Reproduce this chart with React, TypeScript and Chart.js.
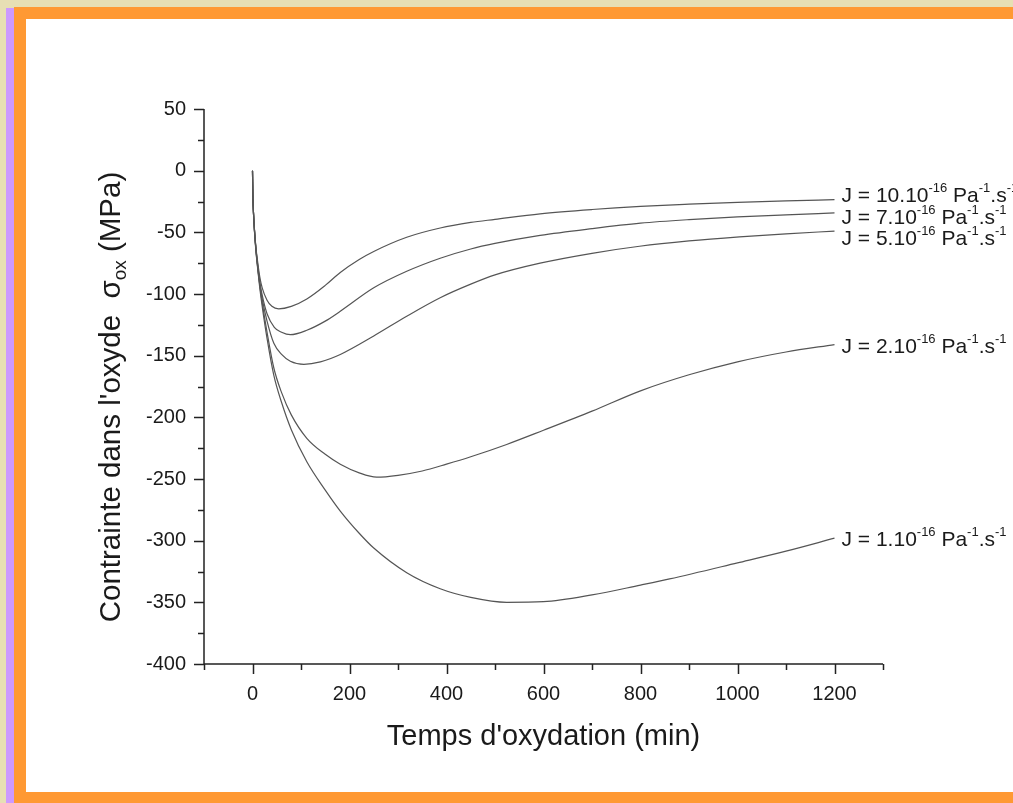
import React, { useEffect, useRef } from "react";
import { Chart, registerables } from "chart.js";

Chart.register(...registerables);

// ---- data ----
const seriesNames = ["J = 10", "J = 7", "J = 5", "J = 2", "J = 1"];
const labelMain = ["J = 10.10", "J = 7.10", "J = 5.10", "J = 2.10", "J = 1.10"];

const tJ10 = [0, 1, 2, 4, 7, 10, 15, 20, 30, 40, 54, 80, 112, 150, 181, 220, 250, 318, 387, 450, 500, 593, 700, 800, 900, 1000, 1100, 1200];
const sJ10 = [0, -24, -34, -47, -62, -72, -86, -95, -105, -110, -112, -110, -104, -93, -82.5, -72, -65.5, -54, -46.5, -42, -39.5, -35, -31.5, -29, -27.2, -25.7, -24.5, -23.5];

const tJ7 = [0, 1, 2, 4, 7, 10, 15, 20, 30, 45, 60, 78, 112, 150, 181, 250, 318, 387, 450, 500, 593, 700, 800, 900, 1000, 1100, 1200];
const sJ7 = [0, -24, -34, -48, -63, -74, -90, -101, -116, -127, -131, -133, -129.4, -122, -114, -95, -81.6, -71, -63.5, -59, -52.5, -47, -42.6, -39.7, -37.5, -35.8, -34.3];

const tJ5 = [0, 1, 2, 4, 7, 10, 15, 20, 30, 44, 60, 78, 106, 140, 181, 250, 318, 387, 450, 500, 593, 700, 798, 900, 1004, 1100, 1200];
const sJ5 = [0, -24, -34, -48, -63, -75, -92, -104, -122, -140, -149, -154.5, -157, -155, -149, -134, -118, -103, -92, -84.5, -75, -67, -61.3, -57, -53.7, -51.2, -49];

const tJ2 = [0, 1, 2, 4, 7, 10, 15, 20, 30, 44, 60, 80, 112, 150, 181, 220, 256, 300, 350, 400, 450, 524, 600, 700, 800, 900, 1000, 1100, 1200];
const sJ2 = [0, -24, -34, -48, -64, -76, -93, -107, -131, -160, -180, -198, -217, -230, -238, -245, -248.5, -247, -243.5, -238, -232, -222, -210.5, -195, -178.5, -165.5, -155, -147, -141];

const tJ1 = [0, 1, 2, 4, 7, 10, 15, 20, 30, 44, 60, 80, 112, 150, 181, 220, 250, 318, 387, 450, 524, 600, 700, 800, 860, 1000, 1100, 1200];
const sJ1 = [0, -24, -34, -49, -65, -77, -95, -110, -136, -166, -188, -210, -236, -259, -276, -294, -306, -326, -339, -346, -350, -349.5, -344, -336, -331, -318, -308.5, -298];

const seriesT = [tJ10, tJ7, tJ5, tJ2, tJ1];
const seriesS = [sJ10, sJ7, sJ5, sJ2, sJ1];

const X_MIN = -100, X_MAX = 1300, X_MAJOR = 200, X_MINOR = 100;
const Y_MIN = -400, Y_MAX = 50, Y_MAJOR = 50, Y_MINOR = 25;

// ---- styles ----
const FONT = '"Liberation Sans", Arial, Helvetica, sans-serif';
const TEXT = "#1a1a1a";
const LABEL_DY = [2, 11, 14, 8, 8];

function drawRich(ctx: CanvasRenderingContext2D, x: number, y: number, segs: { t: string; size: number; dy: number }[], measureOnly = false) {
  let cx = x;
  for (const s of segs) {
    ctx.font = `${s.size}px ${FONT}`;
    if (!measureOnly) ctx.fillText(s.t, cx, y + s.dy);
    cx += ctx.measureText(s.t).width;
  }
  return cx - x;
}

const decor = {
  id: "decor",
  afterDraw(chart: any) {
    const ctx: CanvasRenderingContext2D = chart.ctx;
    const xs = chart.scales.x;
    const ys = chart.scales.y;
    const { left, right, top, bottom } = chart.chartArea;
    ctx.save();
    ctx.strokeStyle = "#222";
    ctx.lineWidth = 1.5;
    ctx.beginPath();
    ctx.moveTo(left, top);
    ctx.lineTo(left, bottom);
    ctx.lineTo(right, bottom);
    for (let v = Y_MIN; v <= Y_MAX; v += Y_MINOR) {
      const p = Math.round(ys.getPixelForValue(v)) + 0.5;
      const major = Math.abs(v % Y_MAJOR) < 1e-9;
      ctx.moveTo(left, p);
      ctx.lineTo(left - (major ? 10 : 6), p);
    }
    for (let v = X_MIN; v <= X_MAX; v += X_MINOR) {
      const p = Math.round(xs.getPixelForValue(v)) + 0.5;
      const major = Math.abs(v % X_MAJOR) < 1e-9;
      ctx.moveTo(p, bottom);
      ctx.lineTo(p, bottom + (major ? 10 : 6));
    }
    ctx.stroke();

    // curve labels
    ctx.fillStyle = TEXT;
    ctx.textBaseline = "alphabetic";
    ctx.textAlign = "left";
    for (let i = 0; i < seriesT.length; i++) {
      const tt = seriesT[i];
      const ss = seriesS[i];
      const px = xs.getPixelForValue(tt[tt.length - 1]) + 7;
      const py = ys.getPixelForValue(ss[ss.length - 1]) + LABEL_DY[i];
      drawRich(ctx, px, py, [
        { t: labelMain[i], size: 21, dy: 0 },
        { t: "-16", size: 13, dy: -10 },
        { t: " Pa", size: 21, dy: 0 },
        { t: "-1", size: 13, dy: -10 },
        { t: ".s", size: 21, dy: 0 },
        { t: "-1", size: 13, dy: -10 },
      ]);
    }

    // x title
    ctx.font = `29px ${FONT}`;
    ctx.textAlign = "center";
    ctx.fillText("Temps d'oxydation (min)", (left + right) / 2, 745);

    // y title
    ctx.textAlign = "left";
    const ysegs = [
      { t: "Contrainte dans l'oxyde  ", size: 29.5, dy: 0 },
      { t: "σ", size: 29.5, dy: 0 },
      { t: "ox", size: 19, dy: 6 },
      { t: " (MPa)", size: 29.5, dy: 0 },
    ];
    const w = drawRich(ctx, 0, 0, ysegs, true);
    ctx.translate(120, 397);
    ctx.rotate(-Math.PI / 2);
    drawRich(ctx, -w / 2, 0, ysegs);
    ctx.restore();
  },
};

export default function App() {
  const ref = useRef<HTMLCanvasElement>(null);
  useEffect(() => {
    if (!ref.current) return;
    const datasets = seriesT.map((tt, i) => ({
      label: seriesNames[i],
      data: tt.map((t, k) => ({ x: t, y: seriesS[i][k] })),
      borderColor: "#555",
      borderWidth: 1.2,
      pointRadius: 0,
      fill: false,
      cubicInterpolationMode: "monotone" as const,
    }));
    const chart = new Chart(ref.current, {
      type: "line",
      data: { datasets },
      plugins: [decor],
      options: {
        responsive: false,
        animation: false,
        devicePixelRatio: 1,
        layout: { padding: { left: 124, right: 130, top: 109, bottom: 89 } },
        plugins: { legend: { display: false }, tooltip: { enabled: false } },
        scales: {
          x: {
            type: "linear",
            min: X_MIN,
            max: X_MAX,
            grid: { display: false, drawTicks: false },
            border: { display: false },
            ticks: {
              stepSize: X_MINOR,
              autoSkip: false,
              maxRotation: 0,
              padding: 18,
              color: TEXT,
              font: { size: 20, family: FONT },
              callback: (v: any) => (v % X_MAJOR === 0 && v >= 0 && v <= 1200 ? String(v) : ""),
            },
            afterFit: (s: any) => {
              s.height = 50;
            },
          },
          y: {
            type: "linear",
            min: Y_MIN,
            max: Y_MAX,
            grid: { display: false, drawTicks: false },
            border: { display: false },
            ticks: {
              stepSize: Y_MAJOR,
              autoSkip: false,
              padding: 18,
              color: TEXT,
              font: { size: 20, family: FONT },
              callback: (v: any) => String(v),
            },
            afterFit: (s: any) => {
              s.width = 80;
            },
          },
        },
      },
    });
    return () => chart.destroy();
  }, []);

  return (
    <div style={{ position: "absolute", left: 0, top: 0, width: 1013, height: 803, background: "#e7dfb4", overflow: "hidden" }}>
      <div style={{ position: "absolute", left: 6, top: 8, width: 8, height: 795, background: "#cc99ff" }} />
      <div style={{ position: "absolute", left: 14, top: 7, width: 999, height: 796, background: "#ff9933" }} />
      <div style={{ position: "absolute", left: 26, top: 19, width: 987, height: 773, background: "#ffffff" }} />
      <canvas ref={ref} width={1013} height={803} style={{ position: "absolute", left: 0, top: 0 }} />
    </div>
  );
}
